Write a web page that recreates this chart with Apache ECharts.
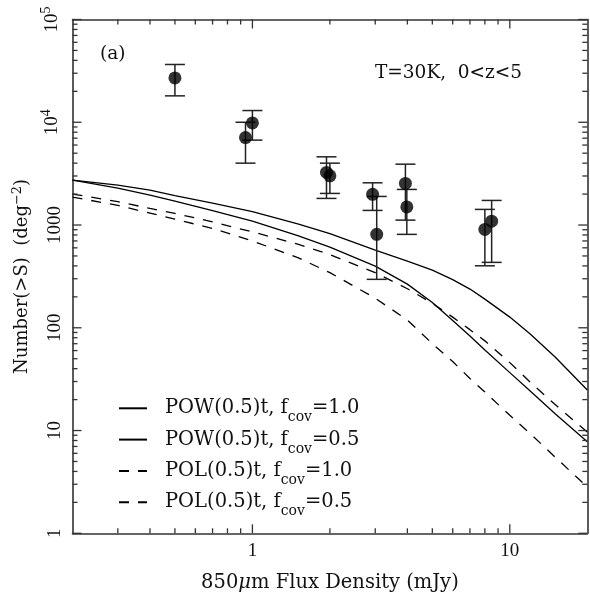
<!DOCTYPE html>
<html>
<head>
<meta charset="utf-8">
<script src="https://cdn.jsdelivr.net/npm/echarts@6.0.0/dist/echarts.min.js"></script>
<style>
html, body { margin: 0; padding: 0; background: #fff; }
#chart { width: 590px; height: 599px; background: #fff; }
</style>
</head>
<body>
<div id="chart"></div>
<script>
// Model grid of 850um flux densities (mJy)
const fluxGrid = [0.2, 0.3, 0.4, 0.5, 0.7, 1.0, 1.5, 2, 3, 4, 5, 6, 7, 8, 10, 12, 15, 20];

// Integrated counts N(>S) (deg^-2) for each model
const powFcov10 = [2735, 2445, 2186, 1933, 1633, 1350, 1028, 824, 570, 446, 364, 294, 238, 190, 127, 86.9, 51.9, 24.8];
const powFcov05 = [2735, 2287, 1954, 1710, 1380, 1091, 789, 610, 398, 266, 176, 117.5, 83, 60.7, 36.6, 24.2, 14.6, 7.78];
const polFcov10 = [2000, 1690, 1449, 1299, 1072, 857, 652, 515, 344, 240, 173, 127, 95.9, 74.6, 45.8, 29.6, 17.9, 9.67];
const polFcov05 = [1870, 1553, 1306, 1141, 926, 700, 482, 344, 194, 119, 70, 46.9, 32.1, 23.7, 14.06, 9.33, 5.52, 2.82];

// Observed source counts with upper / lower error limits
const obsFlux  = [0.5, 0.94, 1.0, 1.94, 2.0, 2.93, 3.04, 3.93, 3.98, 8.0, 8.5];
const obsCount = [27000, 7100, 9860, 3250, 3010, 1990, 811, 2540, 1500, 906, 1090];
const obsHigh  = [36500, 10000, 13000, 4610, 4000, 2575, 1897, 3910, 2220, 1419, 1735];
const obsLow   = [18070, 4000, 6700, 1815, 2030, 1387, 296, 1116, 811, 401, 433];

// Legend entries: model name and covering fraction
const modelNames = ['POW(0.5)t', 'POW(0.5)t', 'POL(0.5)t', 'POL(0.5)t'];
const modelFcov = ['1.0', '0.5', '1.0', '0.5'];

// Axis ranges and tick values
const xRange = [0.2, 20];
const yRange = [1, 100000];
const xLabelTicks = [1, 10];
const xMinorTicks = [0.3, 0.4, 0.5, 0.6, 0.7, 0.8, 0.9, 2, 3, 4, 5, 6, 7, 8, 9];
const yMajorTicks = [1, 10, 100, 1000, 10000, 100000];
const yMinorSteps = [2, 3, 4, 5, 6, 7, 8, 9];
const yMinorTicks = [];
[1, 10, 100, 1000, 10000].forEach(d => yMinorSteps.forEach(s => yMinorTicks.push(s * d)));

const SERIF = 'DejaVu Serif';
const NUMFONT = 'Liberation Serif';
const INK = '#111';
const AXIS = '#333';
const MAJOR_LEN = 9;
const MINOR_LEN = 5;
const lg = Math.log10;

const seriesKeys = modelNames.map((m, i) => m + ' f_cov=' + modelFcov[i] + ' #' + i);
const seriesData = [powFcov10, powFcov05, polFcov10, polFcov05];
const dashed = [false, false, true, true];

// Plain frame edge (top / right) in the log10 units of the data axis
function frameAxis(kind, position) {
  const range = kind === 'x' ? xRange : yRange;
  return {
    type: 'value',
    position: position,
    min: lg(range[0]),
    max: lg(range[1]),
    axisLine: { show: true, onZero: false, lineStyle: { color: AXIS, width: 1.6 } },
    axisTick: { show: false },
    axisLabel: { show: false },
    splitLine: { show: false }
  };
}

// Inward tick marks on all four sides of the frame, placed through the axis scales
function xTickItem(params, api) {
  const cs = params.coordSys;
  const px = api.coord([api.value(0), api.value(1)])[0];
  const len = api.value(2) ? MAJOR_LEN : MINOR_LEN;
  const bottom = cs.y + cs.height;
  return {
    type: 'group',
    children: [
      { type: 'line', shape: { x1: px, y1: bottom, x2: px, y2: bottom - len }, style: { stroke: AXIS, lineWidth: 1.3 } },
      { type: 'line', shape: { x1: px, y1: cs.y, x2: px, y2: cs.y + len }, style: { stroke: AXIS, lineWidth: 1.3 } }
    ]
  };
}
function yTickItem(params, api) {
  const cs = params.coordSys;
  const py = api.coord([api.value(0), api.value(1)])[1];
  const len = api.value(2) ? MAJOR_LEN : MINOR_LEN;
  const right = cs.x + cs.width;
  return {
    type: 'group',
    children: [
      { type: 'line', shape: { x1: cs.x, y1: py, x2: cs.x + len, y2: py }, style: { stroke: AXIS, lineWidth: 1.3 } },
      { type: 'line', shape: { x1: right, y1: py, x2: right - len, y2: py }, style: { stroke: AXIS, lineWidth: 1.3 } }
    ]
  };
}
const xTickSeries = {
  type: 'custom',
  xAxisIndex: 0,
  yAxisIndex: 0,
  silent: true,
  clip: false,
  zlevel: 1,
  z: 10,
  data: xLabelTicks.map(v => [v, yRange[0], 1]).concat(xMinorTicks.map(v => [v, yRange[0], 0])),
  encode: { x: 0, y: 1 },
  renderItem: xTickItem
};
const yTickSeries = {
  type: 'custom',
  xAxisIndex: 0,
  yAxisIndex: 0,
  silent: true,
  clip: false,
  zlevel: 1,
  z: 10,
  data: yMajorTicks.map(v => [xRange[0], v, 1]).concat(yMinorTicks.map(v => [xRange[0], v, 0])),
  encode: { x: 0, y: 1 },
  renderItem: yTickItem
};

const lineSeries = seriesData.map((vals, i) => ({
  name: seriesKeys[i],
  type: 'line',
  xAxisIndex: 0,
  yAxisIndex: 0,
  data: fluxGrid.map((f, j) => [f, vals[j]]),
  symbol: 'none',
  smooth: false,
  silent: true,
  z: 3,
  lineStyle: { color: '#000', width: 1.3, type: dashed[i] ? [10, 9] : 'solid' }
}));

const errorSeries = {
  type: 'custom',
  xAxisIndex: 0,
  yAxisIndex: 0,
  silent: true,
  z: 4,
  data: obsFlux.map((f, i) => [f, obsLow[i], obsHigh[i]]),
  encode: { x: 0, y: [1, 2] },
  renderItem: function (params, api) {
    const x = api.value(0);
    const pLo = api.coord([x, api.value(1)]);
    const pHi = api.coord([x, api.value(2)]);
    const hw = 10;
    const st = { stroke: '#222', lineWidth: 1.5 };
    return {
      type: 'group',
      children: [
        { type: 'line', shape: { x1: pLo[0], y1: pLo[1], x2: pHi[0], y2: pHi[1] }, style: st },
        { type: 'line', shape: { x1: pLo[0] - hw, y1: pLo[1], x2: pLo[0] + hw, y2: pLo[1] }, style: st },
        { type: 'line', shape: { x1: pHi[0] - hw, y1: pHi[1], x2: pHi[0] + hw, y2: pHi[1] }, style: st }
      ]
    };
  }
};

const pointSeries = {
  type: 'scatter',
  xAxisIndex: 0,
  yAxisIndex: 0,
  silent: true,
  z: 5,
  symbol: 'circle',
  symbolSize: 13,
  itemStyle: { color: '#000' },
  data: obsFlux.map((f, i) => [f, obsCount[i]])
};

const option = {
  animation: false,
  grid: { left: 72.5, right: 2.7, top: 19.5, bottom: 65.7, outerBoundsMode: 'none' },
  xAxis: [
    {
      type: 'log',
      logBase: 10,
      position: 'bottom',
      min: xRange[0],
      max: xRange[1],
      axisLine: { show: true, onZero: false, lineStyle: { color: AXIS, width: 1.6 } },
      axisTick: { show: false },
      axisLabel: {
        show: true, margin: 8, color: INK, fontFamily: NUMFONT, fontSize: 19,
        formatter: function (v) {
          const r = Math.round(v);
          return (xLabelTicks.indexOf(r) >= 0 && Math.abs(v - r) < 1e-6) ? String(r) : '';
        }
      },
      splitLine: { show: false },
      name: '{a|850}{mu|μ}{a|m Flux Density (mJy)}',
      nameLocation: 'middle',
      nameGap: 40,
      nameTextStyle: {
        color: INK, fontFamily: SERIF, fontSize: 19.5,
        rich: {
          a: { fontFamily: SERIF, fontSize: 19.5, color: INK },
          mu: { fontFamily: SERIF, fontSize: 19.5, fontStyle: 'italic', color: INK }
        }
      }
    },
    frameAxis('x', 'top')
  ],
  yAxis: [
    {
      type: 'log',
      logBase: 10,
      position: 'left',
      min: yRange[0],
      max: yRange[1],
      axisLine: { show: true, onZero: false, lineStyle: { color: AXIS, width: 1.6 } },
      axisTick: { show: false },
      axisLabel: {
        show: true, rotate: 90, margin: 8, color: INK, fontFamily: NUMFONT, fontSize: 19,
        formatter: function (v) {
          const p = Math.round(lg(v));
          return p >= 4 ? '{n|10}{sup|' + p + '}' : String(Math.round(v));
        },
        rich: {
          n: { fontFamily: NUMFONT, fontSize: 19, color: INK },
          sup: { fontFamily: NUMFONT, fontSize: 14, color: INK, padding: [0, 0, 11, 0] }
        }
      },
      splitLine: { show: false },
      name: '{a|Number(>S)  (deg}{sup|−2}{a|)}',
      nameLocation: 'middle',
      nameGap: 36,
      nameTextStyle: {
        color: INK, fontFamily: SERIF, fontSize: 18,
        rich: {
          a: { fontFamily: SERIF, fontSize: 18, color: INK },
          sup: { fontFamily: SERIF, fontSize: 13, color: INK, padding: [0, 0, 10, 0] }
        }
      }
    },
    frameAxis('y', 'right')
  ],
  legend: {
    show: true,
    orient: 'vertical',
    left: 118,
    top: 391.8,
    padding: 0,
    itemWidth: 28,
    itemHeight: 14,
    itemGap: -1.7,
    selectedMode: false,
    data: seriesKeys,
    itemStyle: { opacity: 0 },
    formatter: function (name) {
      const i = seriesKeys.indexOf(name);
      return modelNames[i] + ', f{sub|cov}=' + modelFcov[i];
    },
    textStyle: {
      color: INK, fontFamily: SERIF, fontSize: 19.5, lineHeight: 19, padding: [0, 0, 0, 13],
      rich: {
        sub: { fontFamily: SERIF, fontSize: 14, lineHeight: 14, color: INK, padding: [19, 0, 0, 0] }
      }
    }
  },
  graphic: [
    { type: 'text', left: 100, top: 44.5, silent: true,
      style: { text: '(a)', fontFamily: SERIF, fontSize: 18.5, fill: INK } },
    { type: 'text', left: 375, top: 64, silent: true,
      style: { text: 'T=30K,  0<z<5', fontFamily: SERIF, fontSize: 18.5, fill: INK } }
  ],
  series: lineSeries.concat([errorSeries, pointSeries, xTickSeries, yTickSeries])
};

const chart = echarts.init(document.getElementById('chart'), null, { renderer: 'canvas', width: 590, height: 599 });
chart.setOption(option);
</script>
</body>
</html>
